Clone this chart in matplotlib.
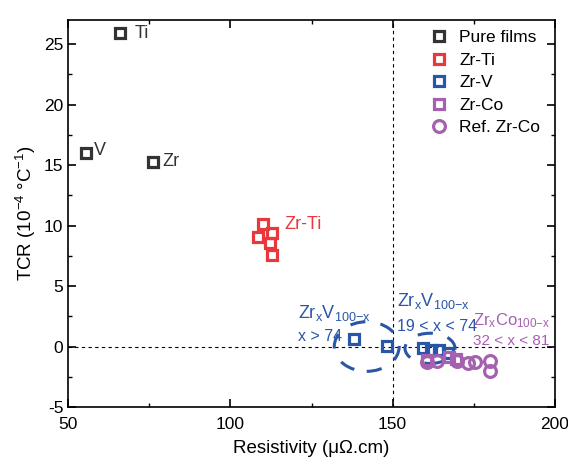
import matplotlib
matplotlib.use("Agg")
import matplotlib.pyplot as plt
from matplotlib.patches import Ellipse
from matplotlib.ticker import MultipleLocator

plt.rcParams['font.family'] = ['Liberation Sans', 'DejaVu Sans']
plt.rcParams['mathtext.fontset'] = 'custom'
plt.rcParams['mathtext.rm'] = 'Liberation Sans'
plt.rcParams['mathtext.it'] = 'Liberation Sans'
plt.rcParams['axes.unicode_minus'] = False

# data
pure_names = ["Ti", "V", "Zr"]
pure_x = [66.0, 55.5, 76.2]
pure_y = [25.9, 16.0, 15.3]

zrti_x = [110.1, 108.5, 112.8, 112.2, 112.8]
zrti_y = [10.1, 9.1, 9.4, 8.6, 7.6]

zrv_x = [138.1, 148.2, 159.2, 161.8, 164.2, 167.0]
zrv_y = [0.6, 0.05, -0.1, -0.3, -0.3, -0.5]

zrco_x = [160.5, 167.5, 169.5]
zrco_y = [-1.1, -0.9, -1.0]

ref_x = [160.6, 163.6, 169.8, 173.2, 175.3, 180.0, 180.0]
ref_y = [-1.3, -1.2, -1.2, -1.4, -1.3, -1.2, -2.0]

black = "#333333"
red = "#e8383d"
blue = "#2a56a8"
purple = "#a560b0"

fig = plt.figure(figsize=(5.68, 4.67), dpi=100)
ax = fig.add_axes([0.12, 0.1285, 0.857, 0.8285])

sq = dict(marker="s", ms=7, mew=2.3, mfc="none", ls="none")
ax.plot(pure_x, pure_y, mec=black, label="Pure films", **sq)
ax.plot(zrti_x, zrti_y, mec=red, label="Zr-Ti", **sq)
ax.plot(zrv_x, zrv_y, mec=blue, label="Zr-V", **sq)
ax.plot(zrco_x, zrco_y, mec=purple, label="Zr-Co", **sq)
ax.plot(ref_x, ref_y, marker="o", ms=8.5, mew=2.3, mfc="none", ls="none",
        mec=purple, label="Ref. Zr-Co")

ax.axhline(0, color="black", lw=0.8, ls=(0, (3, 3)), zorder=0)
ax.axvline(150, color="black", lw=0.8, ls=(0, (3, 3)), zorder=0)

ax.add_patch(Ellipse((142.0, 0.0), 20, 4.1, fill=False, ec=blue, lw=2.2,
                     ls=(0, (5, 5))))
ax.add_patch(Ellipse((161.5, -0.15), 15.4, 2.5, fill=False, ec=blue, lw=2.2,
                     ls=(0, (5, 5))))

offs = {"Ti": (4.5, 0), "V": (2.5, 0.2), "Zr": (2.8, 0)}
for n, x, y in zip(pure_names, pure_x, pure_y):
    ax.text(x + offs[n][0], y + offs[n][1], n, fontsize=13, color=black, va="center")
ax.text(116.5, 10.1, "Zr-Ti", fontsize=13, color=red, va="center")

ax.text(120.8, 2.8, r"Zr$_x$V$_{100\mathrm{-}x}$", fontsize=13, color=blue, va="center")
ax.text(120.8, 0.8, "x > 74", fontsize=11.5, color=blue, va="center")
ax.text(151.3, 3.8, r"Zr$_x$V$_{100\mathrm{-}x}$", fontsize=13, color=blue, va="center")
ax.text(151.3, 1.65, "19 < x < 74", fontsize=11.5, color=blue, va="center")
ax.text(174.8, 2.1, r"Zr$_x$Co$_{100\mathrm{-}x}$", fontsize=12, color=purple, va="center")
ax.text(174.8, 0.45, "32 < x < 81", fontsize=11, color=purple, va="center")

ax.set_xlim(50, 200)
ax.set_ylim(-5, 27)
ax.xaxis.set_major_locator(MultipleLocator(50))
ax.xaxis.set_minor_locator(MultipleLocator(25))
ax.yaxis.set_major_locator(MultipleLocator(5))
ax.yaxis.set_minor_locator(MultipleLocator(2.5))
ax.tick_params(which="both", direction="in", top=True, right=True, labelsize=12.5)
ax.tick_params(axis="x", pad=7)
ax.tick_params(which="major", length=6, width=1.2)
ax.tick_params(which="minor", length=3, width=1.0)
for s in ax.spines.values():
    s.set_linewidth(1.2)

ax.set_xlabel("Resistivity (μΩ.cm)", fontsize=13.5, labelpad=6)
ax.set_ylabel("TCR (10$^{-4}$ °C$^{-1}$)", fontsize=13.5)

ax.legend(loc="upper right", bbox_to_anchor=(0.995, 1.005), frameon=False,
          fontsize=12.5, handletextpad=0.6, labelspacing=0.42,
          handlelength=1.2, borderaxespad=0.3)

fig.savefig("out.png", dpi=100)
